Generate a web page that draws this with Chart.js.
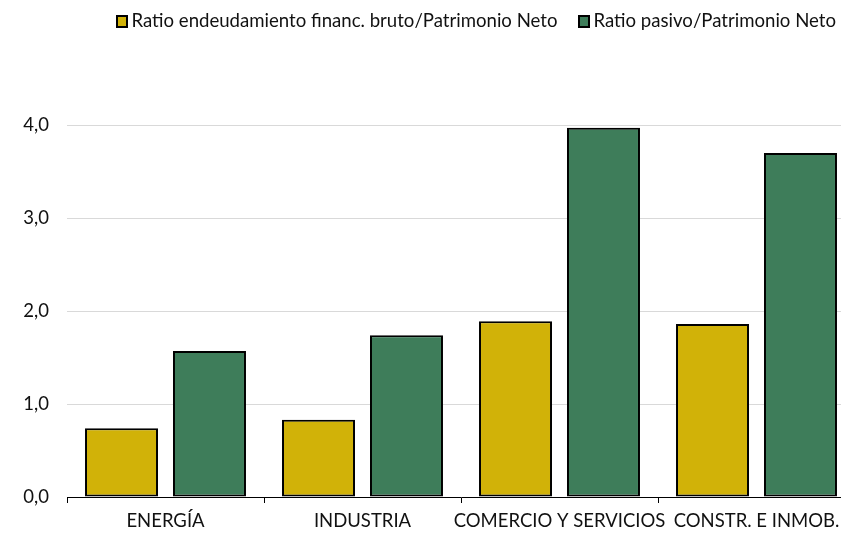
<!DOCTYPE html>
<html>
<head>
<meta charset="utf-8">
<script src="https://cdn.jsdelivr.net/npm/chart.js@4/dist/chart.umd.min.js"></script>
<style>
  html, body { margin: 0; padding: 0; background: #fff; overflow: hidden; }
  #wrap { position: relative; width: 841px; height: 533px; overflow: hidden; }
  #box { position: absolute; left: 0; top: 0; width: 855px; height: 533px; }
  #legend {
    position: absolute; top: 8px; right: 5px;
    font-family: Lato, sans-serif; font-size: 18.6px; color: #111;
    white-space: nowrap; line-height: 24px;
  }
  #legend span.item { margin-left: 21px; }
  #legend span.sw {
    display: inline-block; box-sizing: border-box; width: 12px; height: 13px;
    border: 2px solid #000; margin-right: 3px; vertical-align: -1px;
  }
</style>
</head>
<body>
<div id="wrap">
  <div id="box"><canvas id="chart"></canvas></div>
  <div id="legend"></div>
</div>
<script>
const categories = ['ENERGÍA', 'INDUSTRIA', 'COMERCIO Y SERVICIOS', 'CONSTR. E INMOB.'];
const seriesNames = ['Ratio endeudamiento financ. bruto/Patrimonio Neto', 'Ratio pasivo/Patrimonio Neto'];
const deudaFinanciera = [0.74, 0.83, 1.89, 1.86];
const pasivoTotal = [1.57, 1.74, 3.97, 3.70];
const yTicks = [0, 1, 2, 3, 4];
const seriesColors = ['#D1B208', '#3E7D5A'];

const ctx = document.getElementById('chart').getContext('2d');

const chart = new Chart(ctx, {
    type: 'bar',
    data: {
        labels: categories,
        datasets: [
            {
                label: seriesNames[0],
                data: deudaFinanciera,
                backgroundColor: seriesColors[0],
                borderColor: '#000',
                borderWidth: 2,
                borderSkipped: false,
                categoryPercentage: 0.893,
                barPercentage: 0.83
            },
            {
                label: seriesNames[1],
                data: pasivoTotal,
                backgroundColor: seriesColors[1],
                borderColor: '#000',
                borderWidth: 2,
                borderSkipped: false,
                categoryPercentage: 0.893,
                barPercentage: 0.83
            }
        ]
    },
    options: {
        responsive: true,
        maintainAspectRatio: false,
        animation: false,
        layout: {
            padding: { top: 125, left: 0, right: 0, bottom: 0 }
        },
        plugins: {
            legend: { display: false },
            tooltip: { enabled: false }
        },
        scales: {
            x: {
                afterFit: scale => { scale.height = 36; },
                grid: {
                    offset: true,
                    drawOnChartArea: false,
                    drawTicks: true,
                    tickLength: 6,
                    color: '#000'
                },
                border: { display: true, color: '#000', width: 1 },
                ticks: {
                    color: '#111',
                    padding: 7,
                    autoSkip: false,
                    maxRotation: 0,
                    font: { family: 'Lato', size: 18.5 }
                }
            },
            y: {
                min: yTicks[0],
                max: yTicks[yTicks.length - 1],
                afterFit: scale => { scale.width = 67; },
                afterBuildTicks: scale => {
                    scale.ticks = yTicks.map(v => ({ value: v }));
                },
                grid: {
                    color: '#d9d9d9',
                    drawTicks: false
                },
                border: { display: false },
                ticks: {
                    color: '#111',
                    padding: 18,
                    font: { family: 'Lato', size: 18.5 },
                    callback: value => value.toFixed(1).replace('.', ',')
                }
            }
        }
    }
});

// HTML legend built from the datasets
const legendEl = document.getElementById('legend');
chart.data.datasets.forEach(ds => {
    legendEl.innerHTML += `<span class="item"><span class="sw" style="background:${ds.backgroundColor}"></span>${ds.label}</span>`;
});
</script>
</body>
</html>
